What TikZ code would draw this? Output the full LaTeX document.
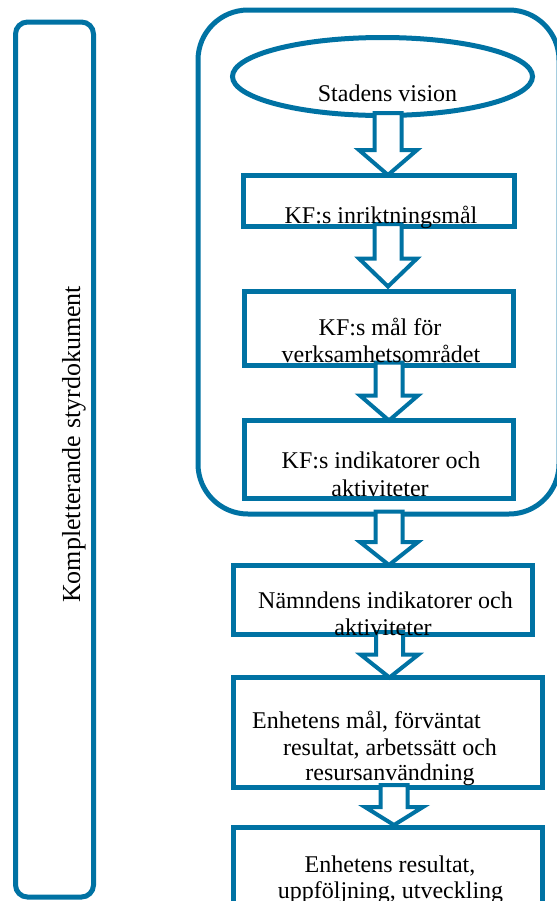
\documentclass[tikz,border=0pt]{standalone}
\usepackage{fontspec}
\setmainfont{Liberation Serif}
\usetikzlibrary{shapes.geometric,calc}
\definecolor{mainblue}{RGB}{0,114,163}
\tikzset{
  frame/.style={draw=mainblue, line width=2.5pt, inner sep=0pt, outer sep=0pt},
  boxnode/.style={frame, rectangle},
  barrow/.style={draw=mainblue, fill=white, line width=2pt, line join=miter},
  lbl/.style={inner sep=0pt, anchor=base, font=\fontsize{12}{14}\selectfont, text=black},
}
% #1 from node, #2 to node, #3 x centre (px), #4 head length (px), #5 gap above tip (px)
\newcommand\blockarrow[5]{%
  \draw[barrow] let \p1=(#1.south), \p2=(#2.north) in
    (#3*0.5pt-6.75pt,\y1+1.25pt) -- (#3*0.5pt-6.75pt,\y2+#5*0.5pt+#4*0.5pt)
    -- (#3*0.5pt-14.5pt,\y2+#5*0.5pt+#4*0.5pt) -- (#3*0.5pt,\y2+#5*0.5pt)
    -- (#3*0.5pt+14.5pt,\y2+#5*0.5pt+#4*0.5pt) -- (#3*0.5pt+6.75pt,\y2+#5*0.5pt+#4*0.5pt)
    -- (#3*0.5pt+6.75pt,\y1+1.25pt) -- cycle;}
\begin{document}
\begin{tikzpicture}[x=0.5pt,y=-0.5pt]
\useasboundingbox (0,0) rectangle (557,901);
% side frame
\node[frame, rectangle, rounded corners=6pt, minimum width=39pt, minimum height=437.5pt] (side) at (54.5,459.5) {};
\node[inner sep=0pt, anchor=base, rotate=90, font=\fontsize{13}{15}\selectfont] (sidetext) at (80,444.5) {Kompletterande styrdokument};
% KF container
\node[frame, rectangle, rounded corners=25pt, minimum width=180.5pt, minimum height=252pt] (kf) at (378.5,262) {};
% vision ellipse
\node[frame, ellipse, minimum width=150pt, minimum height=39pt] (vision) at (382.5,76.5) {};
% boxes
\node[boxnode, minimum width=135.5pt, minimum height=25.75pt] (b1) at (378.5,200.75) {};
\node[boxnode, minimum width=134.5pt, minimum height=36.75pt] (b2) at (378.5,328.25) {};
\node[boxnode, minimum width=134.25pt, minimum height=38.75pt] (b3) at (378.75,459.25) {};
\node[boxnode, minimum width=149.5pt, minimum height=34.75pt] (b4) at (383,599.75) {};
\node[boxnode, minimum width=154.5pt, minimum height=55pt] (b5) at (388,732.5) {};
\node[boxnode, minimum width=154.5pt, minimum height=42pt] (b6) at (388,869) {};
% arrows
\blockarrow{vision}{b1}{388}{25}{0}
\blockarrow{b1}{b2}{388}{28}{5}
\blockarrow{b2}{b3}{389}{25}{0}
\blockarrow{kf}{b4}{389}{23}{0}
\blockarrow{b4}{b5}{389.5}{23}{0}
\blockarrow{b5}{b6}{394}{18}{2}
% texts
\node[lbl] (tv) at (387.5,101) {Stadens vision};
\node[lbl] (t1) at (381,223) {KF:s inriktningsmål};
\node[lbl] (t2a) at (380,335) {KF:s mål för};
\node[lbl] (t2b) at (381,362) {verksamhetsområdet};
\node[lbl] (t3a) at (381,468) {KF:s indikatorer och};
\node[lbl] (t3b) at (380,496) {aktiviteter};
\node[lbl] (t4a) at (385.5,608) {Nämndens indikatorer och};
\node[lbl] (t4b) at (383,635) {aktiviteter};
\node[lbl] (t5a) at (366.5,728) {Enhetens mål, förväntat};
\node[lbl] (t5b) at (390,755) {resultat, arbetssätt och};
\node[lbl] (t5c) at (390,780) {resursanvändning};
\node[lbl] (t6a) at (390,872) {Enhetens resultat,};
\node[lbl] (t6b) at (390.5,898) {uppföljning, utveckling};
\end{tikzpicture}
\end{document}
